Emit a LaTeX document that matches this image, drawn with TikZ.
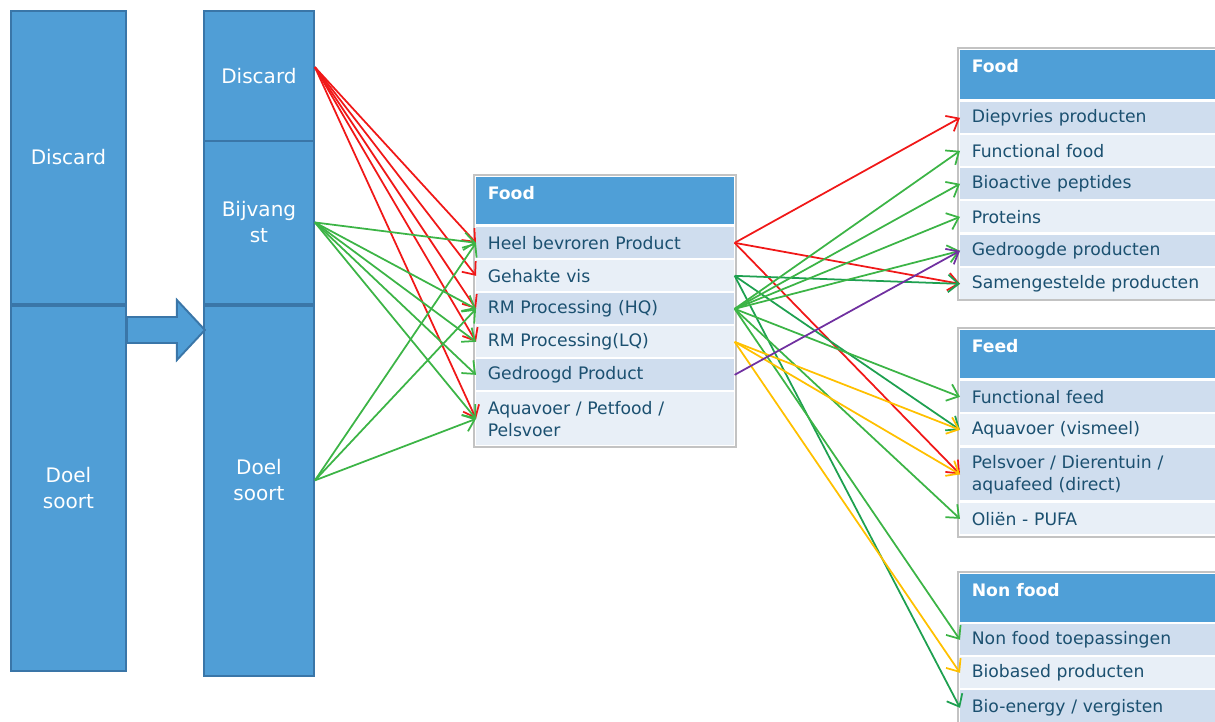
\documentclass[tikz,border=0pt]{standalone}
\usepackage{fontspec}
\setmainfont{DejaVu Sans}
\usetikzlibrary{arrows.meta}
\definecolor{boxblue}{RGB}{80,158,214}
\definecolor{boxedge}{RGB}{58,118,168}
\definecolor{hdrblue}{RGB}{79,159,215}
\definecolor{rowdark}{RGB}{207,221,238}
\definecolor{rowlight}{RGB}{232,239,247}
\definecolor{tblgray}{RGB}{195,195,195}
\definecolor{txtblue}{RGB}{27,80,112}
\definecolor{pijlrood}{RGB}{240,24,24}
\definecolor{pijlgroen}{RGB}{60,180,70}
\definecolor{pijldonker}{RGB}{30,160,80}
\definecolor{pijlgeel}{RGB}{255,192,0}
\definecolor{pijlpaars}{RGB}{112,48,160}

\begin{document}
\begin{tikzpicture}[x=0.02cm,y=-0.02cm,
	blok/.style={draw=boxedge,fill=boxblue,line width=1.1pt,anchor=north west,inner sep=0pt,text=white,align=center,font=\fontsize{11.4}{14.8}\selectfont},
	kop/.style={fill=hdrblue,anchor=north west,minimum width=5.16cm,inner sep=0pt},
	koptxt/.style={anchor=north west,text=white,inner xsep=6.5pt,inner ysep=5pt,font=\bfseries\fontsize{9.8}{12.5}\selectfont},
	rij/.style={anchor=north west,minimum width=5.16cm,minimum height=0.62cm,text width=4.7cm,inner xsep=0.23cm,inner ysep=0pt,align=left,text=txtblue,font=\fontsize{9.8}{12.5}\selectfont},
	donker/.style={rij,fill=rowdark},
	licht/.style={rij,fill=rowlight},
	rand/.style={draw=tblgray,line width=0.6pt},
	pijl/.style={-{Straight Barb[length=6pt,width=10pt]},line width=1pt}]
	\useasboundingbox (0,0) rectangle (1215,722);

	\node[blok,minimum width=2.3cm,minimum height=5.86cm] (disc1) at (10,10) {Discard};
	\node[blok,minimum width=2.3cm,minimum height=7.3cm] (doel1) at (10,305) {Doel\\soort};
	\node[blok,minimum width=2.2cm,minimum height=2.6cm] (disc2) at (203,10) {Discard};
	\node[blok,minimum width=2.2cm,minimum height=3.26cm] (bijv2) at (203,140) {Bijvang\\st};
	\node[blok,minimum width=2.2cm,minimum height=7.4cm,text depth=12pt] (doel2) at (203,305) {Doel\\soort};
	\draw[draw=boxedge,fill=boxblue,line width=1.1pt,line join=miter] (doel1.north east) ++(0,12) -- ++(50,0) -- ++(0,-17) -- ++(28,30) -- ++(-28,30) -- ++(0,-17) -- ++(-50,0) -- cycle;

	\draw[rand] (474,175) rectangle (736,447);
	\node[kop,minimum height=0.94cm,label={[koptxt]north west:Food}] (kopmid) at (476,177) {};
	\node[donker] (heel) at (476,227) {Heel bevroren Product};
	\node[licht] (gehakt) at (476,260) {Gehakte vis};
	\node[donker] (rmhq) at (476,293) {RM Processing (HQ)};
	\node[licht] (rmlq) at (476,326) {RM Processing(LQ)};
	\node[donker] (gedroogd) at (476,359) {Gedroogd Product};
	\node[licht,minimum height=1.06cm] (aquapet) at (476,392) {Aquavoer / Petfood /\\Pelsvoer};

	\draw[rand] (958,48) rectangle (1225,300);
	\node[kop,minimum height=0.98cm,label={[koptxt]north west:Food}] (kopfood) at (960,50) {};
	\node[donker] (diepvr) at (960,102) {Diepvries producten};
	\node[licht] (funcfood) at (960,135) {Functional food};
	\node[donker] (bioact) at (960,168) {Bioactive peptides};
	\node[licht] (prot) at (960,201) {Proteins};
	\node[donker] (gedrprod) at (960,235) {Gedroogde producten};
	\node[licht] (samen) at (960,268) {Samengestelde producten};

	\draw[rand] (958,328) rectangle (1225,537);
	\node[kop,minimum height=0.96cm,label={[koptxt]north west:Feed}] (kopfeed) at (960,330) {};
	\node[donker] (funcfeed) at (960,381) {Functional feed};
	\node[licht] (vismeel) at (960,414) {Aquavoer (vismeel)};
	\node[donker,minimum height=1.04cm] (pelsvoer) at (960,448) {Pelsvoer / Dierentuin /\\aquafeed (direct)};
	\node[licht] (olien) at (960,503) {Oliën - PUFA};

	\draw[rand] (958,572) rectangle (1225,730);
	\node[kop,minimum height=0.96cm,label={[koptxt]north west:Non food}] (kopnonfood) at (960,574) {};
	\node[donker] (nonfood) at (960,624) {Non food toepassingen};
	\node[licht] (biobased) at (960,657) {Biobased producten};
	\node[donker,minimum height=0.7cm] (bioenergy) at (960,690) {Bio-energy / vergisten};

	\draw[pijl,pijlrood] ([yshift=5pt]disc2.east) -- (heel.west);
	\draw[pijl,pijlrood] ([yshift=5pt]disc2.east) -- (gehakt.west);
	\draw[pijl,pijlrood] ([yshift=5pt]disc2.east) -- (rmhq.west);
	\draw[pijl,pijlrood] ([yshift=5pt]disc2.east) -- (rmlq.west);
	\draw[pijl,pijlrood] ([yshift=5pt]disc2.east) -- (aquapet.west);
	\draw[pijl,pijlgroen] (bijv2.east) -- (heel.west);
	\draw[pijl,pijlgroen] (bijv2.east) -- (rmhq.west);
	\draw[pijl,pijlgroen] (bijv2.east) -- (rmlq.west);
	\draw[pijl,pijlgroen] (bijv2.east) -- (gedroogd.west);
	\draw[pijl,pijlgroen] (bijv2.east) -- (aquapet.west);
	\draw[pijl,pijlgroen] ([yshift=6pt]doel2.east) -- (heel.west);
	\draw[pijl,pijlgroen] ([yshift=6pt]doel2.east) -- (rmhq.west);
	\draw[pijl,pijlgroen] ([yshift=6pt]doel2.east) -- (aquapet.west);

	\draw[pijl,pijlrood] (heel.east) -- (diepvr.west);
	\draw[pijl,pijlrood] (heel.east) -- (samen.west);
	\draw[pijl,pijlrood] (heel.east) -- (pelsvoer.west);
	\draw[pijl,pijldonker] (gehakt.east) -- (samen.west);
	\draw[pijl,pijldonker] (gehakt.east) -- (vismeel.west);
	\draw[pijl,pijldonker] (gehakt.east) -- (bioenergy.west);
	\draw[pijl,pijlgroen] (rmhq.east) -- (funcfood.west);
	\draw[pijl,pijlgroen] (rmhq.east) -- (bioact.west);
	\draw[pijl,pijlgroen] (rmhq.east) -- (prot.west);
	\draw[pijl,pijlgroen] (rmhq.east) -- (gedrprod.west);
	\draw[pijl,pijlgroen] (rmhq.east) -- (funcfeed.west);
	\draw[pijl,pijlgroen] (rmhq.east) -- (olien.west);
	\draw[pijl,pijlgroen] (rmhq.east) -- (nonfood.west);
	\draw[pijl,pijlgeel] (rmlq.east) -- (vismeel.west);
	\draw[pijl,pijlgeel] (rmlq.east) -- (pelsvoer.west);
	\draw[pijl,pijlgeel] (rmlq.east) -- (biobased.west);
	\draw[pijl,pijlpaars] (gedroogd.east) -- (gedrprod.west);
\end{tikzpicture}
\end{document}
